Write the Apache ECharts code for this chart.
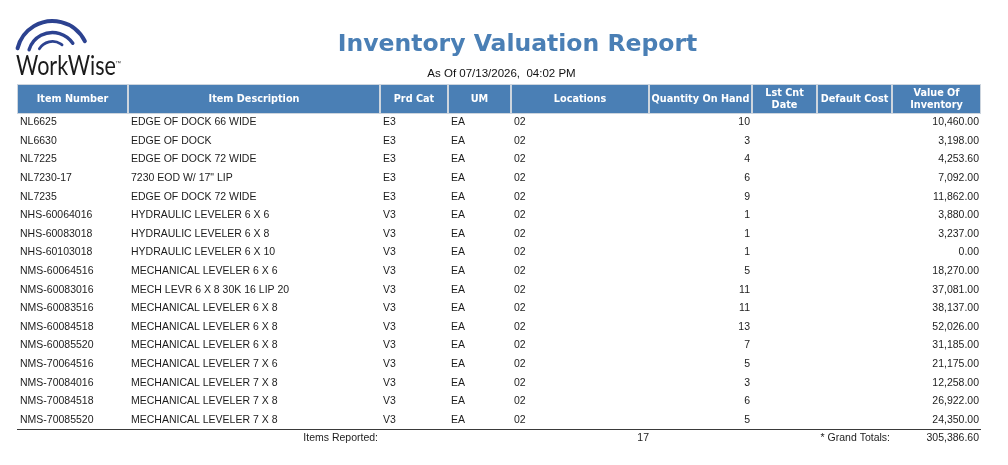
<!DOCTYPE html>
<html>
<head>
<meta charset="utf-8">
<script src="https://cdn.jsdelivr.net/npm/echarts@6/dist/echarts.min.js"></script>
<style>
html,body{margin:0;padding:0;background:#ffffff;}
#chart{width:1008px;height:465px;}
</style>
</head>
<body>
<div id="chart"></div>
<script>
// ---------------- data ----------------
const reportTitle = 'Inventory Valuation Report';
const reportSubtitle = 'As Of 07/13/2026,  04:02 PM';
const headers = ['Item Number', 'Item Description', 'Prd Cat', 'UM', 'Locations', 'Quantity On Hand', 'Lst Cnt\nDate', 'Default Cost', 'Value Of\nInventory'];
const itemNumbers = ['NL6625', 'NL6630', 'NL7225', 'NL7230-17', 'NL7235', 'NHS-60064016', 'NHS-60083018', 'NHS-60103018', 'NMS-60064516', 'NMS-60083016', 'NMS-60083516', 'NMS-60084518', 'NMS-60085520', 'NMS-70064516', 'NMS-70084016', 'NMS-70084518', 'NMS-70085520'];
const descriptions = ['EDGE OF DOCK 66 WIDE', 'EDGE OF DOCK', 'EDGE OF DOCK 72 WIDE', '7230 EOD W/ 17" LIP', 'EDGE OF DOCK 72 WIDE', 'HYDRAULIC LEVELER 6 X 6', 'HYDRAULIC LEVELER 6 X 8', 'HYDRAULIC LEVELER 6 X 10', 'MECHANICAL LEVELER 6 X 6', 'MECH LEVR 6 X 8 30K 16 LIP 20', 'MECHANICAL LEVELER 6 X 8', 'MECHANICAL LEVELER 6 X 8', 'MECHANICAL LEVELER 6 X 8', 'MECHANICAL LEVELER 7 X 6', 'MECHANICAL LEVELER 7 X 8', 'MECHANICAL LEVELER 7 X 8', 'MECHANICAL LEVELER 7 X 8'];
const prdCats = ['E3', 'E3', 'E3', 'E3', 'E3', 'V3', 'V3', 'V3', 'V3', 'V3', 'V3', 'V3', 'V3', 'V3', 'V3', 'V3', 'V3'];
const unitsOfMeasure = ['EA', 'EA', 'EA', 'EA', 'EA', 'EA', 'EA', 'EA', 'EA', 'EA', 'EA', 'EA', 'EA', 'EA', 'EA', 'EA', 'EA'];
const locations = ['02', '02', '02', '02', '02', '02', '02', '02', '02', '02', '02', '02', '02', '02', '02', '02', '02'];
const qtyOnHand = [10, 3, 4, 6, 9, 1, 1, 1, 5, 11, 11, 13, 7, 5, 3, 6, 5];
const lastCountDates = ['', '', '', '', '', '', '', '', '', '', '', '', '', '', '', '', ''];
const defaultCosts = ['', '', '', '', '', '', '', '', '', '', '', '', '', '', '', '', ''];
const inventoryValues = [10460.00, 3198.00, 4253.60, 7092.00, 11862.00, 3880.00, 3237.00, 0.00, 18270.00, 37081.00, 38137.00, 52026.00, 31185.00, 21175.00, 12258.00, 26922.00, 24350.00];

// ---------------- layout / style ----------------
const colEdges = [17, 128, 380, 448, 511, 649, 752, 817, 892, 981];
const colAlign = ['left', 'left', 'left', 'left', 'left', 'right', 'left', 'left', 'right'];
const HEADER_TOP = 84, HEADER_BOTTOM = 114;
const BLUE = '#4a7fb5';
const TEXT = '#1c1c1c';
const DATA_FONT = '10.5px "Liberation Sans", Arial, sans-serif';
const HEAD_FONT = 'bold 9.7px "DejaVu Sans", Verdana, sans-serif';

function fmtMoney(v) {
  const parts = v.toFixed(2).split('.');
  parts[0] = parts[0].replace(/\B(?=(\d{3})+(?!\d))/g, ',');
  return parts.join('.');
}

const rowCells = itemNumbers.map((_, i) => [
  itemNumbers[i], descriptions[i], prdCats[i], unitsOfMeasure[i], locations[i],
  String(qtyOnHand[i]), lastCountDates[i], defaultCosts[i], fmtMoney(inventoryValues[i])
]);

const itemCount = itemNumbers.length;
const grandTotal = inventoryValues.reduce((a, b) => a + b, 0);

// ---------------- graphic (title, logo, header, footer) ----------------
const graphics = [];

// logo arcs
const LOGO_CX = 52.5, LOGO_CY = 57;
[[36, 194, 334, 4], [24.5, 197, 326, 3.4], [15.5, 212, 308, 2.8]].forEach(function (a) {
  graphics.push({
    type: 'arc', silent: true,
    shape: { cx: LOGO_CX, cy: LOGO_CY, r: a[0], startAngle: a[1] * Math.PI / 180, endAngle: a[2] * Math.PI / 180, clockwise: true },
    style: { stroke: '#2c4290', lineWidth: a[3], fill: null, lineCap: 'round' }
  });
});
graphics.push({
  type: 'text', silent: true,
  x: 16, y: 80, scaleX: 0.83, scaleY: 1,
  style: { text: 'WorkWise', x: 0, y: 0, font: '26px Lato, "Open Sans", sans-serif', fill: '#1a1a1a', textAlign: 'left', textVerticalAlign: 'bottom' }
});
graphics.push({
  type: 'text', silent: true,
  style: { text: '\u2122', x: 115, y: 63, font: '6px "Liberation Sans", Arial, sans-serif', fill: '#333', textAlign: 'left', textVerticalAlign: 'middle' }
});

// title + subtitle
graphics.push({
  type: 'text', silent: true,
  style: { text: reportTitle, x: 517.5, y: 45, font: 'bold 23.5px "DejaVu Sans", Verdana, sans-serif', fill: BLUE, textAlign: 'center', textVerticalAlign: 'middle' }
});
graphics.push({
  type: 'text', silent: true,
  style: { text: reportSubtitle, x: 501.5, y: 74, font: '11.5px "Liberation Sans", Arial, sans-serif', fill: '#111', textAlign: 'center', textVerticalAlign: 'middle' }
});

// header band
graphics.push({
  type: 'rect', silent: true,
  shape: { x: colEdges[0], y: HEADER_TOP, width: colEdges[colEdges.length - 1] - colEdges[0], height: HEADER_BOTTOM - HEADER_TOP },
  style: { fill: '#cdd5de' }
});
headers.forEach(function (h, c) {
  const x0 = colEdges[c], x1 = colEdges[c + 1];
  graphics.push({
    type: 'rect', silent: true,
    shape: { x: x0 + 1, y: HEADER_TOP + 1, width: x1 - x0 - 2, height: HEADER_BOTTOM - HEADER_TOP - 2 },
    style: { fill: BLUE }
  });
  graphics.push({
    type: 'text', silent: true,
    style: { text: h, x: (x0 + x1) / 2, y: (HEADER_TOP + HEADER_BOTTOM) / 2, font: HEAD_FONT, fill: '#ffffff', textAlign: 'center', textVerticalAlign: 'middle', lineHeight: 12 }
  });
});

// footer
graphics.push({
  type: 'line', silent: true,
  shape: { x1: colEdges[0], y1: 429.5, x2: colEdges[colEdges.length - 1], y2: 429.5 },
  style: { stroke: '#3a3a3a', lineWidth: 1 }
});
[
  ['Items Reported:', 378, 'right'],
  [String(itemCount), 649, 'right'],
  ['* Grand Totals:', 890, 'right'],
  [fmtMoney(grandTotal), 979, 'right']
].forEach(function (f) {
  graphics.push({
    type: 'text', silent: true,
    style: { text: f[0], x: f[1], y: 438.5, font: DATA_FONT, fill: TEXT, textAlign: f[2], textVerticalAlign: 'middle' }
  });
});

// ---------------- chart ----------------
const chart = echarts.init(document.getElementById('chart'), null, { renderer: 'canvas' });
chart.setOption({
  backgroundColor: '#ffffff',
  animation: false,
  grid: { left: 0, top: 113, width: 1008, height: 316.2, containLabel: false },
  xAxis: { type: 'value', min: 0, max: 1008, show: false },
  yAxis: { type: 'category', data: itemNumbers, inverse: true, show: false },
  graphic: graphics,
  series: [{
    type: 'custom',
    silent: true,
    encode: { x: 0, y: 1 },
    data: itemNumbers.map(function (_, i) { return [0, i]; }),
    renderItem: function (params, api) {
      const i = api.value(1);
      const children = [];
      rowCells[i].forEach(function (txt, c) {
        if (!txt) return;
        const right = colAlign[c] === 'right';
        const ax = right ? colEdges[c + 1] - 2 : colEdges[c] + 3;
        const p = api.coord([ax, i]);
        children.push({
          type: 'text',
          style: { text: txt, x: p[0], y: p[1], font: DATA_FONT, fill: TEXT, align: colAlign[c], verticalAlign: 'middle' }
        });
      });
      return { type: 'group', children: children };
    }
  }]
});
</script>
</body>
</html>
